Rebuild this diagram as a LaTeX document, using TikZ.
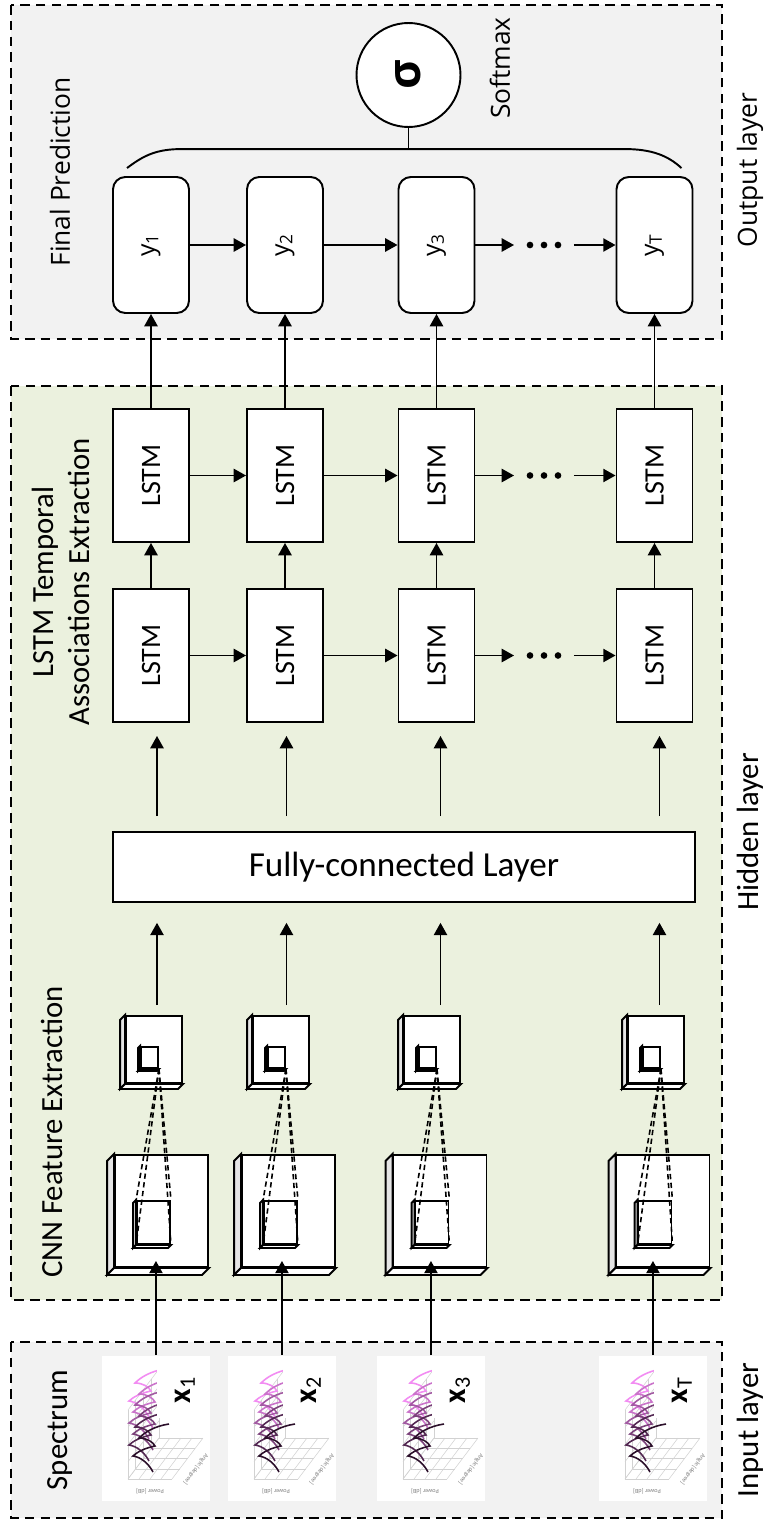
\documentclass[tikz,border=0pt]{standalone}
\usepackage{fontspec}
\setmainfont{Carlito}
\newfontfamily\outfont{Open Sans}
\usetikzlibrary{arrows.meta,calc}

\definecolor{outgray}{HTML}{F2F2F2}
\definecolor{hidgreen}{HTML}{EBF1DE}
\definecolor{specpink}{HTML}{F28CF2}
\definecolor{specdark}{HTML}{2B0F2A}

% side and bottom faces of a feature map
\newcommand\mapdepth[2]{%
  \filldraw[fill=gray!20] (#1.north west) -- ++(-#2,#2) -- ([shift={(-#2,#2)}]#1.south west) -- (#1.south west) -- cycle;
  \filldraw[fill=white] (#1.south west) -- ([shift={(-#2,#2)}]#1.south west) -- ([shift={(-#2,#2)}]#1.south east) -- (#1.south east) -- cycle;}

\begin{document}
\begin{tikzpicture}[x=0.02cm,y=-0.02cm,>={Triangle[length=7pt,width=7.5pt]},line width=1.1pt,
				layer/.style={draw,dash pattern=on 5.5pt off 3.5pt},
				lbl/.style={rotate=90,align=center,font=\fontsize{17.5}{20}\selectfont},
				olbl/.style={rotate=90,font=\outfont\fontsize{15}{18}\selectfont},
				ybox/.style={draw,fill=white,rounded corners=7pt,minimum width=1.52cm,minimum height=2.72cm,inner sep=0pt,font=\outfont\fontsize{14}{14}\selectfont},
				lstm/.style={draw,fill=white,minimum width=1.52cm,minimum height=2.66cm,inner sep=0pt,font=\fontsize{16}{16}\selectfont},
				fmap/.style={draw,fill=white,inner sep=0pt},
				dotsbox/.style={minimum width=1.16cm,inner sep=0pt},
				rf/.style={dash pattern=on 3pt off 2pt,line width=0.9pt}]
	\useasboundingbox (0,0) rectangle (767,1521);
	% layers
	\draw[layer,fill=outgray] (11,5) rectangle (722,339);
	\draw[layer,fill=hidgreen] (11,386) rectangle (722,1300);
	\draw[layer,fill=outgray] (11,1342) rectangle (722,1518);
	\node[olbl] (tfin) at (60,172) {Final Prediction};
	\node[olbl] (tsoft) at (500,68) {Softmax};
	\node[olbl] (tout) at (750,170) {Output layer};
	\node[lbl] (tlstm) at (61,582) {LSTM Temporal\\Associations Extraction};
	\node[lbl] (thid) at (750,832) {Hidden layer};
	\node[lbl] (tcnn) at (52,1132) {CNN Feature Extraction};
	\node[lbl] (tspec) at (60,1430) {Spectrum};
	\node[lbl] (tin) at (750,1430) {Input layer};
	
	% outputs and the two LSTM rows
	\foreach \col/\xc in {1/151,2/285,3/436.5,T/654.5}
	{\node[ybox] (y\col) at (\xc,245) {\rotatebox{90}{y\textsubscript{\col}}};
		\node[lstm] (u\col) at (\xc,475.5) {\rotatebox{90}{LSTM}};
		\node[lstm] (l\col) at (\xc,655.5) {\rotatebox{90}{LSTM}};
		\draw[->] (l\col) -- (u\col);
		\draw[->] (u\col) -- (y\col);}
	\foreach \rw/\yr in {y/245,u/475.5,l/655.5}
	{\node[dotsbox] (\rw dots) at (544,\yr) {};
		\foreach \dd in {-14,0,14}
		\fill ($(\rw dots)+(\dd,0)$) circle (1.9pt);
		\draw[->] (\rw1) -- (\rw2);
		\draw[->] (\rw2) -- (\rw3);
		\draw[->] (\rw3) -- (\rw dots);
		\draw[->] (\rw dots) -- (\rw T);}
	
	% softmax
	\node[draw,fill=white,circle,minimum size=2.08cm,inner sep=0pt,font=\outfont\bfseries\fontsize{26}{26}\selectfont] (soft) at (408.5,75) {\rotatebox{90}{σ}};
	\coordinate (bl) at ([shift={(70,-27)}]y1.north west);
	\draw ([shift={(15,-8)}]y1.north west) .. controls +(17,-13) and +(-25,0) .. (bl)
	-- ([shift={(-69,-27)}]yT.north east) .. controls +(28,0) and +(-13,-12) .. ([shift={(-12,-8)}]yT.north east);
	\draw (soft.south) -- (soft.south |- bl);
	
	\node[draw,fill=white,minimum width=11.64cm,minimum height=1.4cm,font=\fontsize{20}{20}\selectfont] (fc) at (404,867) {Fully-connected Layer};
	
	% CNN feature maps
	\foreach \col/\xs/\xb/\xa in {1/154/161.5/157,2/281/288.5/286.5,3/432/440/440.5,T/656/663/659.5}
	{\node[fmap,minimum width=1.86cm,minimum height=2.24cm] (b\col) at (\xb,1211) {};
		\mapdepth{b\col}{7}
		\node[fmap,minimum width=0.66cm,minimum height=0.86cm] (bi\col) at ($(b\col)+(-8,11.5)$) {};
		\mapdepth{bi\col}{3}
		\node[fmap,minimum width=1.12cm,minimum height=1.34cm] (s\col) at (\xs,1049.5) {};
		\mapdepth{s\col}{5}
		\node[fmap,minimum width=0.34cm,minimum height=0.42cm] (si\col) at ($(s\col)+(-4.5,8)$) {};
		\mapdepth{si\col}{2}
		\foreach \cn in {north west,north east,south west,south east}
		\draw[rf] (si\col.south east) -- (bi\col.\cn);
		\coordinate (a\col) at (\xa,867);
		\draw[->,shorten <=5.7pt,shorten >=11.3pt] (a\col |- s\col.north) -- (a\col |- fc.south);
		\draw[->,shorten <=8.5pt,shorten >=7.4pt] (a\col |- fc.north) -- (a\col |- l\col.south);}
	
	% input spectra
	\foreach \col/\xi in {1/101,2/227,3/376,T/598}
	{\node[fill=white,minimum width=2.16cm,minimum height=2.9cm,inner sep=0pt,anchor=north west] (sp\col) at (\xi,1355) {};
		\begin{scope}[shift={(sp\col.north west)}]
			\begin{scope}[line width=0.3pt,draw=gray!35]
				\foreach \ti in {0,...,4}
				{\draw (27+7.75*\ti,124-10.25*\ti) -- (27+7.75*\ti,55-10.25*\ti);
					\draw (27,124-17.25*\ti) -- (58,83-17.25*\ti);
					\draw (27+11*\ti,124) -- (58+11*\ti,83);
					\draw (27+7.75*\ti,124-10.25*\ti) -- (71+7.75*\ti,124-10.25*\ti);}
			\end{scope}
			\node[rotate=180,text=gray,font=\fontsize{3.5}{3.5}\selectfont] (pw\col) at (49,136) {Power [dB]};
			\node[rotate=233,text=gray,font=\fontsize{3.5}{3.5}\selectfont] (an\col) at (95,114) {Angle [degree]};
			\foreach \ii in {0,...,5}
			{\pgfmathsetmacro\pc{100-20*\ii}
				\pgfmathsetmacro\xo{28+4*mod(\ii,2)}
				\pgfmathsetmacro\yo{14+11*\ii}
				\draw[color=specpink!\pc!specdark,line width=0.9pt] (\xo+36,\yo) .. controls (\xo+22,\yo+2) and (\xo+12,\yo+8) .. (\xo+6,\yo+14)
				.. controls (\xo+14,\yo+14) and (\xo+20,\yo+18) .. (\xo+22,\yo+22)
				.. controls (\xo+12,\yo+24) and (\xo+4,\yo+28) .. (\xo,\yo+32)
				.. controls (\xo+8,\yo+33) and (\xo+16,\yo+40) .. (\xo+20,\yo+48);}
			\fill[white] (56,13) rectangle (102,63);
			\node[rotate=90,font=\fontsize{18}{18}\selectfont] (x\col) at (84,35) {\textbf{x}\textsubscript{\col}};
		\end{scope}
		\draw[->,shorten >=-4pt] (sp\col.north) -- (sp\col.north |- b\col.south);}
\end{tikzpicture}
\end{document}
